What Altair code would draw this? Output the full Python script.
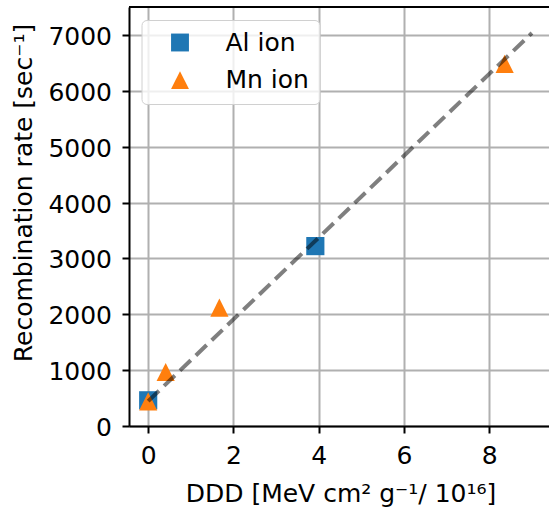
import altair as alt
import pandas as pd

# data
al_x = [0.0, 3.92]
al_y = [460, 3220]
mn_x = [0.0, 0.41, 1.67, 8.36]
mn_y = [440, 966, 2118, 6483]
fit_x = [0.0, 9.0]
fit_y = [445, 7035]
series_names = ["Al ion", "Mn ion"]
x_ticks = [0, 2, 4, 6, 8]
y_ticks = [0, 1000, 2000, 3000, 4000, 5000, 6000, 7000]

pts = pd.DataFrame(
    {"x": al_x + mn_x,
     "y": al_y + mn_y,
     "ion": [series_names[0]] * len(al_x) + [series_names[1]] * len(mn_x),
     "order": list(range(len(al_x) + len(mn_x)))}
)
fit = pd.DataFrame({"x": fit_x, "y": fit_y})

FONT = "DejaVu Sans"
W, H = 420, 419
TRI = "M0,-1L1,1L-1,1Z"

xscale = alt.Scale(domain=[-0.45, 9.40], nice=False, zero=False)
yscale = alt.Scale(domain=[0, 7500], nice=False, zero=False)

xaxis = alt.Axis(
    title="DDD [MeV cm² g⁻¹/ 10¹⁶]", values=x_ticks, format="d",
    grid=True, gridColor="#b0b0b0", gridWidth=2,
    domainColor="black", domainWidth=2, tickColor="black", tickWidth=2, tickSize=7,
    labelFont=FONT, labelFontSize=25, labelColor="black", labelPadding=30,
    labelBaseline="alphabetic", labelFlush=False,
    titleFont=FONT, titleFontSize=25, titleFontWeight="normal", titleColor="black",
    titleX=211.5, titleY=75.7, titleBaseline="alphabetic", titleAlign="center",
)
yaxis = alt.Axis(
    title="Recombination rate [sec⁻¹]", values=y_ticks, format="d",
    grid=True, gridColor="#b0b0b0", gridWidth=2,
    domainColor="black", domainWidth=2, tickColor="black", tickWidth=2, tickSize=7,
    labelFont=FONT, labelFontSize=25, labelColor="black", labelPadding=10.5,
    labelBaseline="middle", labelOffset=1.5, labelFlush=False,
    titleFont=FONT, titleFontSize=25, titleFontWeight="normal", titleColor="black",
    titleX=-97.3, titleY=185.5, titleBaseline="alphabetic", titleAlign="center", titleAngle=-90,
)

points = alt.Chart(pts).mark_point(filled=True, opacity=1, size=330, strokeWidth=0).encode(
    x=alt.X("x:Q", scale=xscale, axis=xaxis),
    y=alt.Y("y:Q", scale=yscale, axis=yaxis),
    color=alt.Color("ion:N", scale=alt.Scale(domain=series_names, range=["#1f77b4", "#ff7f0e"]),
                    legend=alt.Legend(title=None, orient="none", legendX=12.5, legendY=13,
                                      padding=10, rowPadding=11.6, symbolOffset=16,
                                      labelOffset=33, labelFont=FONT, labelFontSize=25,
                                      labelColor="black", symbolSize=320,
                                      fillColor="rgba(255,255,255,0.8)", strokeColor="#d0d0d0",
                                      cornerRadius=5, symbolStrokeWidth=0)),
    shape=alt.Shape("ion:N", scale=alt.Scale(domain=series_names, range=["square", TRI]),
                    legend=None),
    order="order:Q",
)

line = alt.Chart(fit).mark_line(color="black", opacity=0.5, strokeWidth=4, strokeDash=[15, 7]).encode(
    x=alt.X("x:Q", scale=xscale),
    y=alt.Y("y:Q", scale=yscale),
)

top_spine = alt.Chart(fit).mark_rule(color="black", strokeWidth=2).encode(
    x=alt.value(0), x2=alt.value(W + 5), y=alt.value(0)
)

chart = alt.layer(points, line, top_spine).properties(
    width=W, height=H,
    autosize=alt.AutoSizeParams(type="none"),
    padding={"left": 129, "top": 7, "right": 0, "bottom": 84},
).configure_view(stroke=None).configure(background="white")

chart.save("out.html", embed_options={"renderer": "svg", "actions": False})
